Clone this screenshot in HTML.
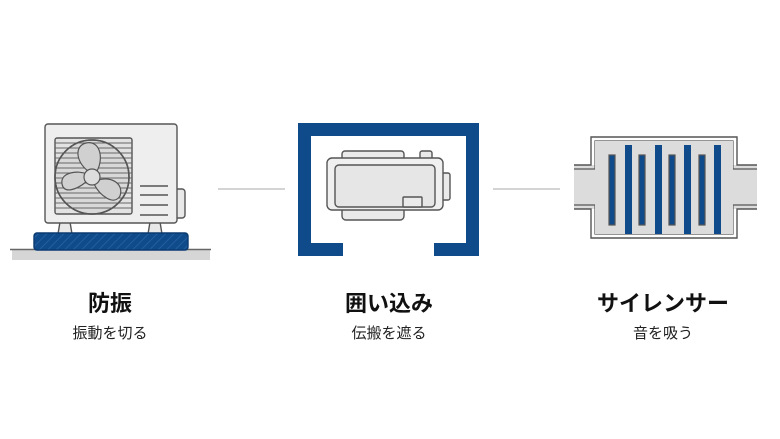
<!DOCTYPE html>
<html><head><meta charset="utf-8"><style>
html,body{margin:0;padding:0;background:#fff;}
body{width:780px;height:439px;position:relative;overflow:hidden;font-family:"Liberation Sans","Noto Sans CJK JP",sans-serif;color:#111;}
.t{position:absolute;width:240px;text-align:center;font-weight:bold;font-size:22px;top:286px;}
.s{position:absolute;width:240px;text-align:center;font-size:15px;top:322px;color:#222;}
</style></head><body>
<svg width="780" height="439" style="position:absolute;left:0;top:0">
<defs>
<pattern id="h" width="6" height="6" patternUnits="userSpaceOnUse" patternTransform="rotate(45)">
<rect width="6" height="6" fill="#0f4a8a"/><line x1="0" y1="0" x2="0" y2="6" stroke="#2a64a8" stroke-width="1.5"/></pattern>
<clipPath id="c"><circle cx="92" cy="177" r="37"/></clipPath>
</defs>
<g stroke="#555" stroke-width="1.4" fill="#e8e8e8">
<rect x="12" y="250" width="198" height="10" fill="#d6d6d6" stroke="none"/>
<line x1="10" y1="249.5" x2="211" y2="249.5" stroke="#666"/>
<path d="M58 234 L60 222 L70 222 L72 234Z"/>
<path d="M148 234 L150 222 L160 222 L162 234Z"/>
<rect x="174" y="189" width="11" height="29" rx="3"/>
<rect x="45" y="124" width="132" height="99" rx="3" fill="#eeeeee"/>
<rect x="55" y="138" width="77" height="76" rx="2" fill="#e2e2e2"/>
<circle cx="92" cy="177" r="37" fill="#d8d8d8"/>
<g stroke="#666" stroke-width="1" fill="none">
<path d="M55 143H132M55 148H132M55 153H132M55 158H132M55 163H132M55 168H132M55 173H132M55 178H132M55 183H132M55 188H132M55 193H132M55 198H132M55 203H132M55 208H132"/>
</g>
<g clip-path="url(#c)" stroke="#555" stroke-width="1.2">
<path d="M88 171 C76 162 74 146 86 143 C100 140 104 158 97 171 Z M98 180 C112 176 124 184 120 196 C114 206 100 196 94 184 Z M86 182 C76 190 64 194 62 184 C60 172 78 170 87 174 Z" fill="#d0d0d0"/>
<circle cx="92" cy="177" r="8" fill="#ddd"/>
</g>
<circle cx="92" cy="177" r="37" fill="none" stroke="#555" stroke-width="1.6"/>
<path d="M140 186H168M140 195H168M140 205H168M140 215H168" stroke="#555" stroke-width="1.5"/>
<rect x="34" y="233" width="154" height="17" rx="3" fill="url(#h)" stroke="#0a3a70"/>
</g>
<line x1="218" y1="189" x2="285" y2="189" stroke="#aaa" stroke-width="1"/>
<line x1="493" y1="189" x2="560" y2="189" stroke="#aaa" stroke-width="1"/>
<path d="M298 123H479V256H434V243H466V136H311V243H343V256H298Z" fill="#0f4a8a"/>
<g stroke="#555" stroke-width="1.4" fill="#eaeaea">
<rect x="342" y="151" width="62" height="9" rx="3"/>
<rect x="420" y="151" width="12" height="9" rx="2"/>
<rect x="342" y="204" width="62" height="16" rx="4"/>
<rect x="440" y="173" width="10" height="27" rx="2"/>
<rect x="327" y="158" width="116" height="52" rx="5" fill="#f0f0f0"/>
<rect x="335" y="165" width="100" height="42" rx="4" fill="#e6e6e6"/>
<rect x="403" y="197" width="19" height="10" rx="1"/>
</g>
<g stroke="#555" stroke-width="1.4">
<rect x="574" y="165" width="183" height="44" fill="#dcdcdc" stroke="none"/>
<path d="M574 165H591V137H737V165H757M574 209H591V238H737V209H757" fill="none"/>
<path d="M574 169H595V141H733V169H757M574 205H595V234H733V205H757" fill="none" stroke-width="1.2"/>
<rect x="595" y="141" width="138" height="93" fill="#dcdcdc" stroke="none"/>
</g>
<g fill="#0f4a8a">
<rect x="625" y="145" width="7" height="89"/><rect x="655" y="145" width="7" height="89"/><rect x="684" y="145" width="7" height="89"/><rect x="714" y="145" width="7" height="89"/>
</g>
<g fill="#0f4a8a" stroke="#555" stroke-width="1.2">
<rect x="609" y="155" width="6" height="70"/><rect x="639" y="155" width="6" height="70"/><rect x="669" y="155" width="6" height="70"/><rect x="699" y="155" width="6" height="70"/>
</g>
</svg>
<div class="t" style="left:-10px">防振</div>
<div class="s" style="left:-10px">振動を切る</div>
<div class="t" style="left:269px">囲い込み</div>
<div class="s" style="left:269px">伝搬を遮る</div>
<div class="t" style="left:543px">サイレンサー</div>
<div class="s" style="left:543px">音を吸う</div>
</body></html>
